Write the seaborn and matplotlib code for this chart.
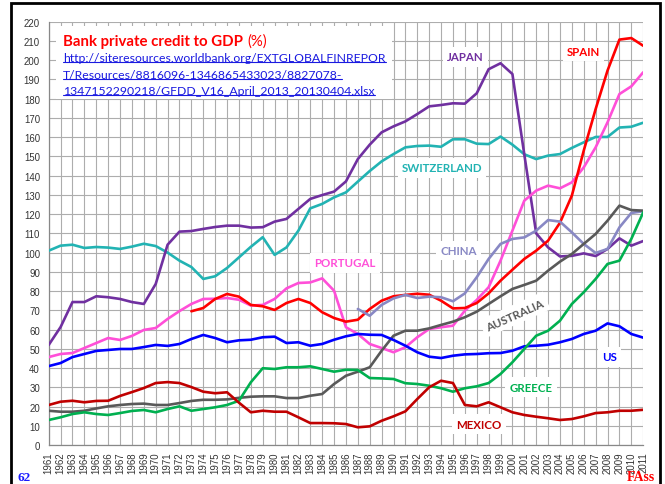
import numpy as np
import pandas as pd
import matplotlib
matplotlib.use("Agg")
import matplotlib.pyplot as plt
import seaborn as sns
from matplotlib.patches import Rectangle
from matplotlib.lines import Line2D

# ---- data: bank private credit to GDP (%) ----
years = list(range(1961, 2012))

japan = [52, 61.3, 74.3, 74.3, 77.3, 76.8, 75.9, 74.3, 73.3, 83.7,
         104.1, 110.9, 111.2, 112.3, 113.3, 114, 114, 113, 113.2, 116.1,
         117.5, 122.7, 127.9, 129.9, 131.7, 137, 148.6, 156.1, 162.5, 165.6,
         168.2, 172, 176, 176.7, 177.6, 177.4, 182.8, 195.3, 198.4, 192.8,
         151, 110, 102.7, 98, 98.3, 99.6, 98.2, 101.9, 107.4, 103.6, 106]

switzerland = [101, 103.6, 104.1, 102.4, 102.9, 102.6, 101.9, 103.1, 104.6, 103.4,
               100, 95.8, 92.5, 86.3, 87.7, 92, 97.5, 103, 108, 98.8,
               102.7, 111.4, 123, 125.3, 128.7, 131.3, 136.9, 142.4, 147.4, 151.2,
               154.7, 155.4, 155.6, 155, 158.9, 158.9, 156.6, 156.4, 160.3, 156.1,
               151.1, 148.6, 150.4, 151.2, 154.4, 157.3, 160.1, 160.1, 165, 165.4, 167.5]

portugal = [45.7, 47.3, 47.8, 50.4, 53, 55.6, 54.6, 56.7, 59.8, 60.8,
            65.5, 69.6, 73.3, 75.9, 76, 76.4, 75.5, 72.5, 72.8, 75.9,
            81.4, 84.2, 84.5, 86.6, 80.2, 61.2, 57.7, 52.5, 50.4, 48.2,
            50.8, 56, 60.3, 61.2, 62, 69.8, 75.4, 82, 95.8, 111.4,
            127, 132.2, 134.8, 133.4, 136.5, 144.3, 154.7, 167.7, 182.4, 186.4, 193.7]

spain_years = list(range(1973, 2012))
spain = [69.5, 71.2, 75.9, 78.5, 77.1, 72.8, 72.1, 70.2, 73.8, 75.9,
         73.8, 69, 66, 64.1, 65.1, 70.7, 75, 77.3, 78, 78.6,
         78.1, 75, 71, 71.2, 73.8, 78.8, 85.4, 91.1, 96.7, 101,
         106.2, 115.5, 129.6, 153, 174.6, 194.6, 210.7, 211.5, 207.5]

china_years = list(range(1987, 2012))
china = [70.7, 67.2, 72.8, 76.2, 78, 76.4, 77.1, 76.8, 74.7, 78.8,
         87.2, 96.7, 104.5, 107.1, 107.9, 111.4, 116.9, 116.1, 110.5, 104.5,
         99.8, 101.9, 113.1, 120.6, 121.5]

australia = [17.8, 17.3, 17.3, 17.8, 19, 20.1, 20.8, 21.3, 21.5, 20.8,
             20.8, 21.8, 22.9, 23.5, 23.5, 23.7, 24.5, 25.1, 25.3, 25.3,
             24.4, 24.4, 25.6, 26.5, 31.7, 36, 38.1, 40.4, 49, 56.8,
             59.4, 59.4, 60.6, 62.4, 64.1, 66.4, 69.3, 73.3, 77.3, 81.1,
             83.2, 85.4, 90.6, 95.3, 99.3, 104.5, 109.7, 116.6, 124.4, 122.1, 121.8]

us = [41, 42.6, 45.7, 47.3, 48.9, 49.4, 49.9, 49.9, 50.9, 52,
      51.5, 52.5, 55.1, 57.2, 55.6, 53.4, 54.4, 54.7, 56, 56.3,
      53, 53.4, 51.6, 52.5, 54.7, 56.5, 57.7, 57.3, 57.2, 54.6,
      51.6, 48.2, 45.9, 45.2, 46.4, 47.1, 47.3, 47.7, 47.8, 49,
      51.3, 51.6, 52.1, 53.4, 55.1, 57.7, 59.4, 63.2, 61.7, 57.7, 55.8]

greece = [13, 14.4, 16.1, 17, 16.1, 15.6, 16.6, 17.7, 18.2, 17,
          18.7, 20.1, 17.8, 18.7, 19.6, 20.8, 23, 32.6, 39.9, 39.5,
          40.4, 40.4, 40.9, 39.5, 38.1, 39.1, 39, 34.8, 34.6, 34.3,
          32.1, 31.7, 30.8, 29.5, 27.7, 29.5, 30.5, 32.2, 36.9, 43,
          49.9, 56.8, 59.4, 64.6, 73.3, 79.4, 86.3, 94.1, 95.8, 107.1, 120.9]

mexico = [20.8, 22.5, 23, 22.2, 22.9, 23, 25.5, 27.5, 29.6, 32.2,
          32.7, 32.2, 30.1, 27.7, 26.9, 27.4, 22, 17, 17.8, 17.3,
          17.3, 14.4, 11.4, 11.4, 11.3, 10.9, 9.2, 9.7, 12.6, 14.9,
          17.5, 23.9, 30, 33.4, 32.2, 20.8, 20.1, 22.2, 19.6, 17,
          15.6, 14.7, 13.9, 13, 13.5, 14.9, 16.6, 17, 17.8, 17.8, 18.3]

series = [
    ("SWITZERLAND", years, switzerland, "#22b3b3"),
    ("JAPAN", years, japan, "#7030a0"),
    ("PORTUGAL", years, portugal, "#ff4fd8"),
    ("SPAIN", spain_years, spain, "#ff0000"),
    ("CHINA", china_years, china, "#8888c4"),
    ("AUSTRALIA", years, australia, "#595959"),
    ("US", years, us, "#0000ff"),
    ("GREECE", years, greece, "#00b050"),
    ("MEXICO", years, mexico, "#c00000"),
]

frames = [pd.DataFrame({"year": yrs, "value": vals, "country": name})
          for name, yrs, vals, _ in series]
df = pd.concat(frames, ignore_index=True)
palette = {name: col for name, _, _, col in series}

# ---- figure ----
sns.set_style("white")
plt.rcParams["font.family"] = ["Lato", "DejaVu Sans"]

W, H = 665, 485
fig = plt.figure(figsize=(W / 100, H / 100), dpi=100)
ax_l, ax_r, ax_t, ax_b = 48.7, 643.2, 22.7, 446.0
ax = fig.add_axes([ax_l / W, 1 - ax_b / H, (ax_r - ax_l) / W, (ax_b - ax_t) / H])

sns.lineplot(data=df, x="year", y="value", hue="country", palette=palette,
             hue_order=[s[0] for s in series], estimator=None,
             linewidth=1.9, legend=False, ax=ax, zorder=3)

ax.set_xlim(1961, 2011)
ax.set_ylim(0, 220)
ax.set_xticks(years)
ax.set_xticklabels([str(y) for y in years], rotation=90,
                   fontsize=6.9, family="Liberation Sans", color="#333333")
ax.set_yticks(range(0, 221, 10))
ax.set_yticklabels([str(v) for v in range(0, 221, 10)],
                   fontsize=6.9, family="Liberation Sans", color="#333333")
ax.set_xlabel("")
ax.set_ylabel("")
ax.grid(True, color="#adadad", linewidth=0.8)
ax.set_axisbelow(True)
for side in ("top", "right"):
    ax.spines[side].set_visible(False)
for side in ("left", "bottom"):
    ax.spines[side].set_color("#888888")
    ax.spines[side].set_linewidth(0.9)
ax.tick_params(axis="y", length=3.3, width=0.8, color="#888888", pad=3)
ax.tick_params(axis="x", length=2.5, width=0.8, color="#888888", pad=2)


def to_axes(px, py):
    return (px - ax_l) / (ax_r - ax_l), (ax_b - py) / (ax_b - ax_t)


# white panel behind the heading block
x0, y0 = to_axes(56, 100)
x1, y1 = to_axes(392, 27)
ax.add_patch(Rectangle((x0, y0), x1 - x0, y1 - y0, transform=ax.transAxes,
                       facecolor="white", edgecolor="none", zorder=1.5))

# heading and source
t1 = fig.text(63 / W, 1 - 41.7 / H, "Bank private credit to GDP", color="#ff0000",
              fontsize=10.8, fontweight="bold", va="center", ha="left")
ax.annotate("(%)", xy=(1, 0), xycoords=t1, xytext=(3, 0), textcoords="offset points",
            color="#ff0000", fontsize=10.8, va="bottom", ha="left")

url_lines = ["http://siteresources.worldbank.org/EXTGLOBALFINREPOR",
             "T/Resources/8816096-1346865433023/8827078-",
             "1347152290218/GFDD_V16_April_2013_20130404.xlsx"]
url_y = [58.5, 75.5, 91.5]
url_texts = [fig.text(63 / W, 1 - yy / H, s, color="#1a1ae0", fontsize=8.8,
                      va="center", ha="left") for s, yy in zip(url_lines, url_y)]
fig.canvas.draw()
renderer = fig.canvas.get_renderer()
for t in url_texts:
    bb = t.get_window_extent(renderer)
    yline = bb.y0 + 1.5
    fig.add_artist(Line2D([bb.x0 / W, bb.x1 / W], [yline / H, yline / H],
                          color="#1a1ae0", linewidth=0.8, transform=fig.transFigure))

# series labels
labels = [
    ("JAPAN", 1996.05, 201.7, "#7030a0", 0),
    ("SPAIN", 2005.98, 204.5, "#ff0000", 0),
    ("SWITZERLAND", 1994.08, 144.0, "#22b3b3", 0),
    ("PORTUGAL", 1985.92, 94.6, "#ff4fd8", 0),
    ("CHINA", 1995.45, 101.1, "#8888c4", 0),
    ("AUSTRALIA", 2000.18, 67.7, "#595959", 24),
    ("US", 2008.2, 45.8, "#0000ff", 0),
    ("GREECE", 2001.56, 30.1, "#00b050", 0),
    ("MEXICO", 1997.19, 10.9, "#c00000", 0),
]
for name, lx, ly, col, rot in labels:
    ax.text(lx, ly, name, color=col, fontsize=8.3, fontweight="bold",
            ha="center", va="center", rotation=rot, rotation_mode="anchor",
            zorder=2,
            bbox=dict(facecolor="white", edgecolor="none", pad=3))

# page furniture
fig.text(24 / W, 1 - 478.5 / H, "62", color="#1a1aff", fontsize=9.5,
         fontweight="bold", family="Liberation Serif", ha="center", va="center")
fig.text(641 / W, 1 - 478 / H, "FAss", color="#ff0000", fontsize=10,
         fontweight="bold", family="Liberation Serif", ha="center", va="center")
fig.add_artist(Rectangle((11 / W, -0.05), (660 - 11) / W, 1.05 - 4 / H,
                         transform=fig.transFigure, facecolor="none",
                         edgecolor="black", linewidth=2.0))

fig.savefig("out.png", dpi=100)
